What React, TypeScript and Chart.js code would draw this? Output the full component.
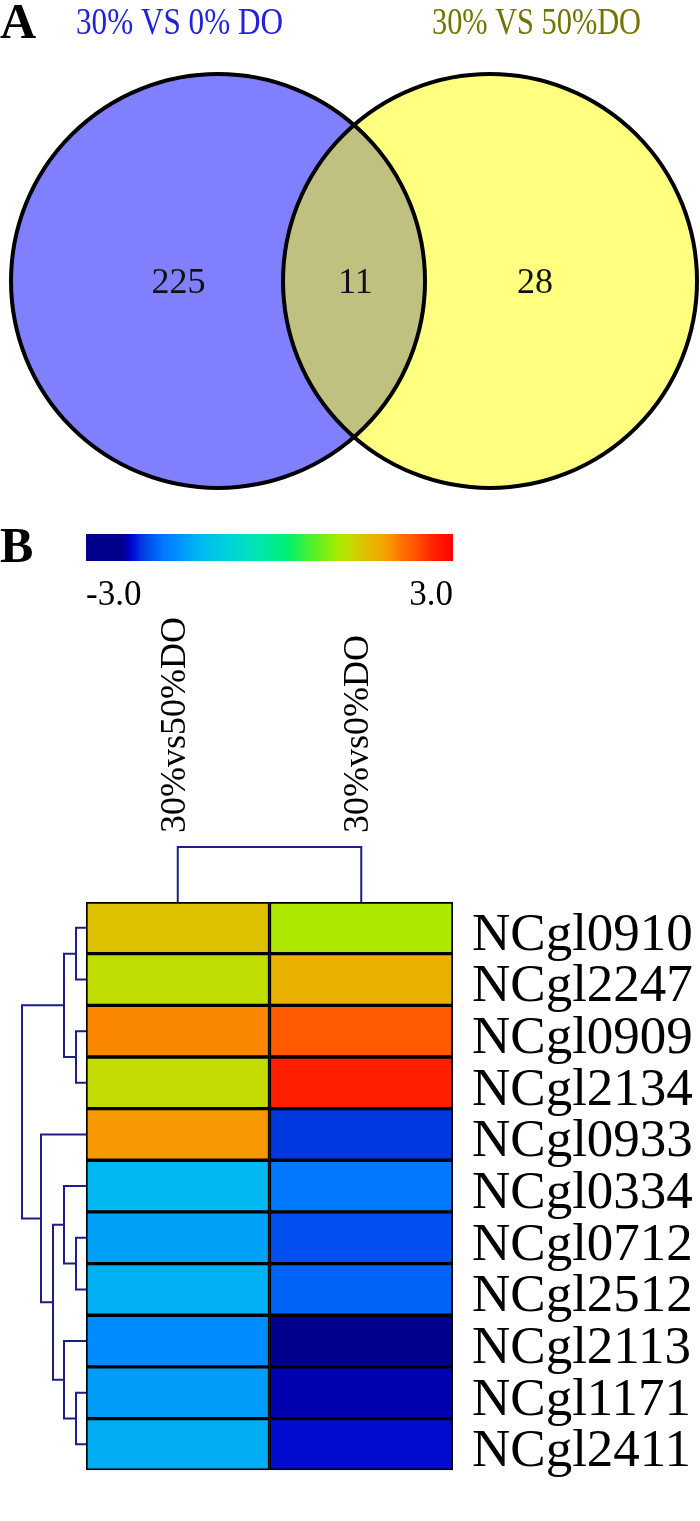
import React, { useEffect, useRef } from 'react';
import { Chart, registerables } from 'chart.js';

Chart.register(...registerables);

// ---------------- DATA ----------------
// Venn (panel A)
const vennSetNames = ['30% VS 0% DO', '30% VS 50%DO'];
const vennRegionCounts = [225, 11, 28]; // only first set, shared, only second set

// Heatmap (panel B)
const genes = [
  'NCgl0910', 'NCgl2247', 'NCgl0909', 'NCgl2134', 'NCgl0933', 'NCgl0334',
  'NCgl0712', 'NCgl2512', 'NCgl2113', 'NCgl1171', 'NCgl2411',
];
const comparisons = ['30%vs50%DO', '30%vs0%DO'];
const valuesVs50 = [1.56, 1.28, 2.05, 1.31, 1.95, -1.13, -1.35, -1.2, -1.53, -1.38, -1.23];
const valuesVs0 = [1.14, 1.74, 2.34, 2.71, -2.1, -1.74, -1.97, -1.86, -2.58, -2.34, -2.25];
const colorbarTicks = ['-3.0', '3.0'];
const colorMin = -3;
const colorMax = 3;

// Hierarchical clustering of rows: [childA, childB, height]; leaves 0..10, new nodes numbered from 11
const rowMerges: [number, number, number][] = [
  [0, 1, 1.0],
  [2, 3, 1.0],
  [11, 12, 2.2],
  [6, 7, 1.0],
  [5, 14, 2.2],
  [9, 10, 1.0],
  [8, 16, 2.2],
  [15, 17, 3.3],
  [4, 18, 4.5],
  [13, 19, 6.4],
];
// Clustering of columns
const colMerges: [number, number, number][] = [[0, 1, 5.5]];

// ---------------- STYLE / LAYOUT ----------------
const SERIF = '"Liberation Serif", "Times New Roman", serif';
const CMAP: [number, string][] = [
  [0.0, '#00008c'],
  [0.1, '#00008c'],
  [0.115, '#0000c0'],
  [0.13, '#0010d8'],
  [0.15, '#0038e0'],
  [0.18, '#0058f4'],
  [0.21, '#0078ff'],
  [0.245, '#008cff'],
  [0.28, '#00a4f5'],
  [0.32, '#00bcf0'],
  [0.38, '#00d0dc'],
  [0.46, '#00e4b8'],
  [0.55, '#00f070'],
  [0.63, '#60f020'],
  [0.69, '#ace800'],
  [0.72, '#c4da00'],
  [0.76, '#ddc000'],
  [0.8, '#ecac00'],
  [0.83, '#f89400'],
  [0.86, '#ff7000'],
  [0.89, '#ff5a00'],
  [0.95, '#ff2000'],
  [1.0, '#ff0000'],
];

function hexToRgb(h: string) {
  const n = parseInt(h.slice(1), 16);
  return [(n >> 16) & 255, (n >> 8) & 255, n & 255];
}
function colorFor(v: number) {
  let t = (v - colorMin) / (colorMax - colorMin);
  t = Math.max(0, Math.min(1, t));
  for (let i = 0; i < CMAP.length - 1; i++) {
    const [t0, c0] = CMAP[i];
    const [t1, c1] = CMAP[i + 1];
    if (t >= t0 && t <= t1) {
      const f = t1 === t0 ? 0 : (t - t0) / (t1 - t0);
      const a = hexToRgb(c0);
      const b = hexToRgb(c1);
      const r = a.map((x, k) => Math.round(x + (b[k] - x) * f));
      return `rgb(${r[0]},${r[1]},${r[2]})`;
    }
  }
  return CMAP[CMAP.length - 1][1];
}

// Venn geometry in chart units (circle centres 2 units apart)
const VENN_CIRCLES = [
  { cx: -1, cy: 0, r: 1.522, fill: '#8080ff' },
  { cx: 1, cy: 0, r: 1.522, fill: '#ffff80' },
];
const VENN_OVERLAP_FILL = '#c0c080';
const VENN_LABEL_POS = [
  { x: -1.29, y: -0.02 },
  { x: 0.01, y: -0.02 },
  { x: 1.33, y: -0.02 },
];
const VENN_TITLE_COLORS = ['#2222dd', '#737300'];
const DENDRO_PX = 10; // pixels per unit of cluster distance
const DENDRO_COLOR = '#1e1e8a';

function drawFitText(ctx: CanvasRenderingContext2D, text: string, x: number, y: number, width: number, font: string, color: string) {
  ctx.save();
  ctx.font = font;
  const w = ctx.measureText(text).width;
  ctx.translate(x, y);
  ctx.scale(width / w, 1);
  ctx.fillStyle = color;
  ctx.textAlign = 'left';
  ctx.textBaseline = 'alphabetic';
  ctx.fillText(text, 0, 0);
  ctx.restore();
}

const vennPlugin = {
  id: 'vennDecor',
  beforeDatasetsDraw(chart: any) {
    const { ctx, scales } = chart;
    const xs = scales.x;
    const ys = scales.y;
    const px = (c: any) => ({
      x: xs.getPixelForValue(c.cx),
      y: ys.getPixelForValue(c.cy),
      r: Math.abs(xs.getPixelForValue(c.r) - xs.getPixelForValue(0)),
    });
    const circles = VENN_CIRCLES.map(px);
    ctx.save();
    circles.forEach((c, i) => {
      ctx.beginPath();
      ctx.arc(c.x, c.y, c.r, 0, Math.PI * 2);
      ctx.fillStyle = VENN_CIRCLES[i].fill;
      ctx.fill();
    });
    // overlap
    ctx.save();
    ctx.beginPath();
    ctx.arc(circles[0].x, circles[0].y, circles[0].r, 0, Math.PI * 2);
    ctx.clip();
    ctx.beginPath();
    ctx.arc(circles[1].x, circles[1].y, circles[1].r, 0, Math.PI * 2);
    ctx.fillStyle = VENN_OVERLAP_FILL;
    ctx.fill();
    ctx.restore();
    circles.forEach((c) => {
      ctx.beginPath();
      ctx.arc(c.x, c.y, c.r, 0, Math.PI * 2);
      ctx.lineWidth = 4;
      ctx.strokeStyle = '#000';
      ctx.stroke();
    });
    ctx.restore();
  },
  afterDatasetsDraw(chart: any) {
    const { ctx } = chart;
    const meta = chart.getDatasetMeta(0);
    ctx.save();
    ctx.font = `36px ${SERIF}`;
    ctx.fillStyle = '#111';
    ctx.textAlign = 'center';
    ctx.textBaseline = 'middle';
    meta.data.forEach((pt: any, i: number) => {
      ctx.fillText(String(vennRegionCounts[i]), pt.x, pt.y);
    });
    // panel letter
    ctx.font = `bold 50px ${SERIF}`;
    ctx.textAlign = 'left';
    ctx.textBaseline = 'alphabetic';
    ctx.fillStyle = '#000';
    ctx.fillText('A', 0, 38);
    ctx.restore();
    drawFitText(ctx, vennSetNames[0], 76, 34, 207, `37px ${SERIF}`, VENN_TITLE_COLORS[0]);
    drawFitText(ctx, vennSetNames[1], 432, 34, 209, `37px ${SERIF}`, VENN_TITLE_COLORS[1]);
  },
};

const heatPlugin = {
  id: 'heatDecor',
  afterDraw(chart: any) {
    const { ctx, chartArea, scales } = chart;
    const xs = scales.x;
    const ys = scales.y;
    ctx.save();
    // panel letter
    ctx.fillStyle = '#000';
    ctx.font = `bold 50px ${SERIF}`;
    ctx.textAlign = 'left';
    ctx.textBaseline = 'alphabetic';
    ctx.fillText('B', 0, 62);
    // colour bar
    const cbTop = 34;
    const cbH = 27;
    const g = ctx.createLinearGradient(chartArea.left, 0, chartArea.right, 0);
    CMAP.forEach(([t, c]) => g.addColorStop(t, c));
    ctx.fillStyle = g;
    ctx.fillRect(chartArea.left, cbTop, chartArea.right - chartArea.left, cbH);
    ctx.fillStyle = '#000';
    ctx.font = `35px ${SERIF}`;
    ctx.textAlign = 'left';
    ctx.fillText(colorbarTicks[0], chartArea.left, 105);
    ctx.textAlign = 'right';
    ctx.fillText(colorbarTicks[1], chartArea.right, 105);
    // column labels
    comparisons.forEach((c, j) => {
      const x = xs.getPixelForValue(j + 0.5);
      ctx.save();
      ctx.translate(x + 7, chartArea.top - 69);
      ctx.rotate(-Math.PI / 2);
      ctx.font = `36px ${SERIF}`;
      ctx.textAlign = 'left';
      ctx.textBaseline = 'alphabetic';
      ctx.fillStyle = '#000';
      ctx.fillText(c, 0, 0);
      ctx.restore();
    });
    // dendrograms
    ctx.strokeStyle = DENDRO_COLOR;
    ctx.lineWidth = 2;
    ctx.lineJoin = 'miter';
    const cpos = comparisons.map((_, j) => ({ x: xs.getPixelForValue(j + 0.5), y: chartArea.top }));
    colMerges.forEach(([a, b, h]) => {
      const pa = cpos[a];
      const pb = cpos[b];
      const yh = chartArea.top - h * DENDRO_PX;
      ctx.beginPath();
      ctx.moveTo(pa.x, pa.y);
      ctx.lineTo(pa.x, yh);
      ctx.lineTo(pb.x, yh);
      ctx.lineTo(pb.x, pb.y);
      ctx.stroke();
      cpos.push({ x: (pa.x + pb.x) / 2, y: yh });
    });
    const rpos = genes.map((_, i) => ({ x: chartArea.left, y: ys.getPixelForValue(i) }));
    rowMerges.forEach(([a, b, h]) => {
      const pa = rpos[a];
      const pb = rpos[b];
      const xh = chartArea.left - h * DENDRO_PX;
      ctx.beginPath();
      ctx.moveTo(pa.x, pa.y);
      ctx.lineTo(xh, pa.y);
      ctx.lineTo(xh, pb.y);
      ctx.lineTo(pb.x, pb.y);
      ctx.stroke();
      rpos.push({ x: xh, y: (pa.y + pb.y) / 2 });
    });
    ctx.restore();
  },
};

export default function App() {
  const vennRef = useRef<HTMLCanvasElement | null>(null);
  const heatRef = useRef<HTMLCanvasElement | null>(null);

  useEffect(() => {
    const venn = new Chart(vennRef.current as HTMLCanvasElement, {
      type: 'scatter',
      data: {
        datasets: [
          {
            label: 'counts',
            data: VENN_LABEL_POS.map((p) => ({ x: p.x, y: p.y })),
            pointRadius: 0,
          },
        ],
      },
      options: {
        responsive: false,
        animation: false,
        layout: { padding: 0 },
        scales: {
          x: { type: 'linear', display: false, min: -2.603, max: 2.544 },
          y: { type: 'linear', display: false, min: -1.61, max: 2.066 },
        },
        plugins: { legend: { display: false }, tooltip: { enabled: false } },
      },
      plugins: [vennPlugin],
    } as any);

    const allValues = [valuesVs50, valuesVs0];
    const heat = new Chart(heatRef.current as HTMLCanvasElement, {
      type: 'bar',
      data: {
        labels: genes,
        datasets: comparisons.map((c, j) => ({
          label: c,
          data: genes.map(() => 1),
          backgroundColor: allValues[j].map(colorFor),
          borderColor: '#000',
          borderWidth: 2,
          borderSkipped: false,
          barPercentage: 1,
          categoryPercentage: 1,
        })),
      },
      options: {
        indexAxis: 'y',
        responsive: false,
        animation: false,
        layout: { padding: { left: 86, top: 402, right: 0, bottom: 12 } },
        scales: {
          x: { stacked: true, display: false, min: 0, max: 2 },
          y: {
            stacked: true,
            position: 'right',
            grid: { display: false, drawTicks: false },
            border: { display: false },
            ticks: {
              autoSkip: false,
              color: '#000',
              padding: 19,
              labelOffset: 8,
              font: { family: SERIF, size: 53 },
            },
            afterFit: (s: any) => {
              s.width = 247;
            },
          },
        },
        plugins: { legend: { display: false }, tooltip: { enabled: false } },
      },
      plugins: [heatPlugin],
    } as any);

    return () => {
      venn.destroy();
      heat.destroy();
    };
  }, []);

  return (
    <div style={{ position: 'absolute', left: 0, top: 0, width: 700, background: '#fff' }}>
      <canvas ref={vennRef} width={700} height={500} style={{ display: 'block' }} />
      <canvas ref={heatRef} width={700} height={1021} style={{ display: 'block' }} />
    </div>
  );
}
